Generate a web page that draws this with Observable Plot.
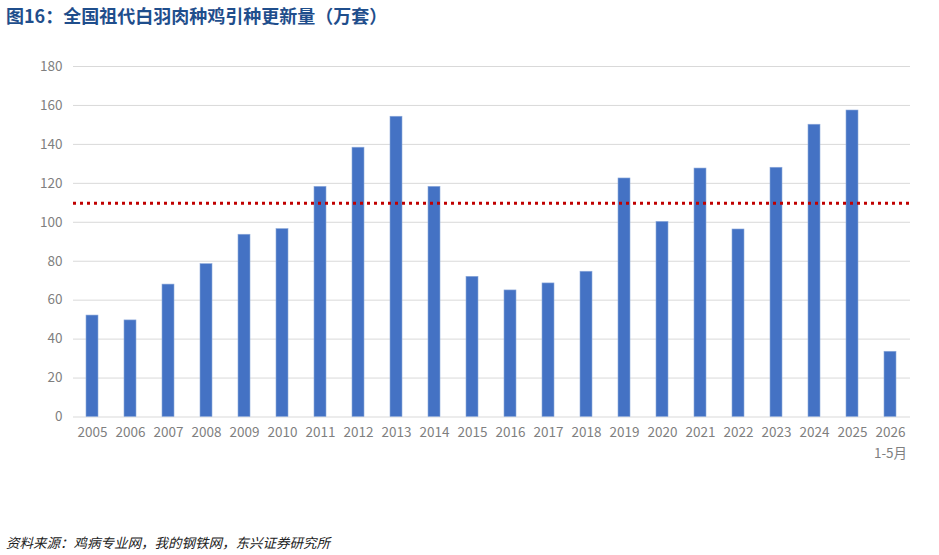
<!DOCTYPE html>
<html>
<head>
<meta charset="utf-8">
<script src="https://cdn.jsdelivr.net/npm/d3@7"></script>
<script src="https://cdn.jsdelivr.net/npm/@observablehq/plot@0.6"></script>
<style>
  body { margin: 0; background: #fff; width: 939px; height: 555px; overflow: hidden; }
  #title { height: 30px; line-height: 30px; padding-left: 6px; font-family: "Noto Sans CJK SC", sans-serif; font-weight: bold; font-size: 18px; color: #1f4e8c; }
  #caption { height: 25px; line-height: 25px; padding-left: 6px; font-family: "Noto Sans CJK SC", serif; font-style: italic; font-size: 13.5px; color: #222; }
  svg { display: block; }
</style>
</head>
<body>
<div id="title">图16：全国祖代白羽肉种鸡引种更新量（万套）</div>
<div id="chart"></div>
<div id="caption">资料来源：鸡病专业网，我的钢铁网，东兴证券研究所</div>
<script>
const years = ["2005","2006","2007","2008","2009","2010","2011","2012","2013","2014","2015","2016","2017","2018","2019","2020","2021","2022","2023","2024","2025","2026"];
const yearLabels = ["2005","2006","2007","2008","2009","2010","2011","2012","2013","2014","2015","2016","2017","2018","2019","2020","2021","2022","2023","2024","2025","2026\n1-5月"];
const values = [52.1, 49.6, 68.0, 78.5, 93.6, 96.5, 118.2, 138.3, 154.2, 118.2, 72.0, 65.0, 68.6, 74.6, 122.5, 100.2, 127.6, 96.3, 128.0, 150.1, 157.4, 33.5];
const yTicks = [0, 20, 40, 60, 80, 100, 120, 140, 160, 180];
const trendValue = 109.8;

const data = years.map((y, i) => ({year: y, value: values[i]}));
const labelOf = new Map(years.map((y, i) => [y, yearLabels[i]]));

const chart = Plot.plot({
  width: 939,
  height: 500,
  marginTop: 36,
  marginBottom: 113.5,
  marginLeft: 73,
  marginRight: 29,
  style: { fontFamily: "'Noto Sans CJK SC', sans-serif", fontSize: "13px", color: "#7f7f7f", background: "#fff" },
  x: { domain: years, paddingInner: 0.68, paddingOuter: 0.34, align: 0.5 },
  y: { domain: [0, 180] },
  marks: [
    Plot.gridY(yTicks, { stroke: "#d9d9d9", strokeOpacity: 1, strokeWidth: 1 }),
    Plot.axisY(yTicks, { tickSize: 0, tickPadding: 11, label: null, fill: "#7f7f7f", fontSize: 13.5 }),
    Plot.axisX({ tickSize: 0, tickPadding: 6, label: null, tickFormat: d => labelOf.get(d), fill: "#7f7f7f", fontSize: 13.5, lineHeight: 1.5 }),
    Plot.barY(data, { x: "year", y: "value", fill: "#4472c4", stroke: "#8eaadb", strokeWidth: 0.6 }),
    Plot.ruleY([trendValue], { stroke: "#c00000", strokeWidth: 3, strokeDasharray: "3,4" })
  ]
});
document.getElementById("chart").appendChild(chart);
</script>
</body>
</html>
